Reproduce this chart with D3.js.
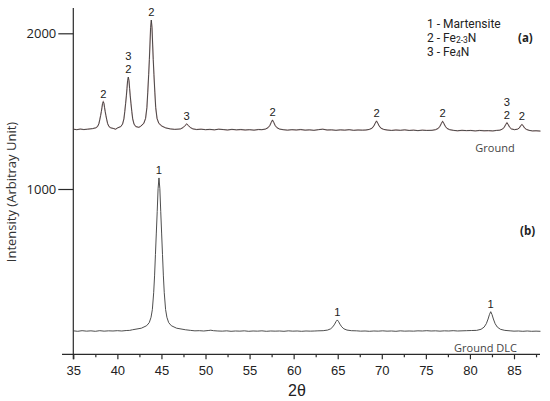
<!DOCTYPE html>
<html><head><meta charset="utf-8">
<script src="https://cdn.jsdelivr.net/npm/d3@7"></script>
<style>body{margin:0;background:#fff;} svg{display:block;}</style>
</head><body>
<svg id="c" width="550" height="401"></svg>
<script>
// Trace (a) Ground
const thetaA = [35.0,35.4,35.8,36.2,36.6,36.9,37.2,37.55,37.75,37.9,38.0,38.1,38.18,38.25,38.32,38.4,38.48,38.55,38.62,38.7,38.8,38.9,39.05,39.25,39.6,39.8,40.04,40.39,40.59,40.74,40.84,40.94,41.02,41.09,41.16,41.24,41.32,41.39,41.46,41.54,41.64,41.74,41.89,42.09,42.44,42.65,43.0,43.2,43.35,43.45,43.55,43.63,43.7,43.77,43.85,43.93,44.0,44.07,44.15,44.25,44.35,44.5,44.7,45.05,45.5,46.0,46.5,47.0,47.17,47.47,47.67,47.87,48.07,48.27,48.57,49.0,49.5,50.0,50.5,51.0,51.5,52.0,52.5,53.0,53.5,54.0,54.5,55.0,55.5,56.0,56.4,56.8,57.1,57.3,57.45,57.6,57.75,57.9,58.1,58.4,58.8,59.3,59.8,60.3,60.8,61.3,61.8,62.3,62.8,63.3,63.8,64.3,64.8,65.3,65.8,66.3,66.8,67.3,67.8,68.2,68.6,68.9,69.1,69.25,69.4,69.55,69.7,69.9,70.2,70.6,71.1,71.6,72.1,72.6,73.1,73.6,74.1,74.6,75.1,75.7,76.1,76.4,76.6,76.75,76.9,77.05,77.2,77.4,77.7,78.1,78.6,79.1,79.6,80.1,80.6,81.1,81.6,82.1,82.6,83.0,83.4,83.7,83.9,84.05,84.2,84.35,84.5,84.7,85.05,85.4,85.6,85.75,85.9,86.05,86.2,86.4,86.7,87.1,87.5,88.0];
const intA = [1384,1381,1385,1382,1384,1386,1388,1393,1401,1419,1444,1472,1497,1522,1549,1561,1549,1522,1497,1472,1444,1419,1401,1393,1388,1384,1393,1401,1417,1450,1497,1551,1598,1645,1695,1719,1695,1645,1598,1551,1497,1450,1417,1401,1396,1403,1422,1453,1523,1622,1734,1832,1931,2036,2085,2036,1931,1832,1734,1622,1523,1453,1422,1404,1392,1386,1383,1385,1386,1395,1407,1418,1407,1395,1386,1382,1384,1381,1383,1380,1384,1382,1379,1383,1380,1382,1379,1381,1378,1382,1381,1385,1394,1408,1427,1443,1427,1408,1394,1385,1381,1378,1381,1379,1382,1378,1380,1377,1381,1384,1379,1380,1377,1380,1378,1381,1377,1379,1378,1379,1383,1391,1405,1422,1437,1422,1405,1391,1383,1379,1376,1379,1377,1380,1376,1378,1375,1378,1376,1377,1381,1389,1403,1420,1435,1420,1403,1389,1381,1377,1374,1377,1375,1376,1373,1376,1374,1375,1373,1376,1378,1385,1397,1413,1426,1413,1397,1386,1381,1384,1392,1405,1415,1405,1392,1383,1377,1373,1374,1372];
// Trace (b) Ground DLC
const thetaB = [35.0,35.5,36.0,36.5,37.0,37.5,38.0,38.5,39.0,39.5,40.0,40.5,41.0,41.4,41.72,42.72,43.32,43.62,43.82,43.97,44.12,44.22,44.32,44.42,44.52,44.62,44.72,44.82,44.92,45.02,45.12,45.22,45.32,45.47,45.62,45.82,46.12,46.72,47.72,48.3,48.8,49.3,49.8,50.3,50.6,50.9,51.4,51.9,52.4,52.9,53.4,53.9,54.4,54.9,55.4,55.9,56.4,56.9,57.4,57.9,58.4,58.9,59.4,59.9,60.4,60.9,61.4,61.9,62.4,62.75,63.35,63.85,64.2,64.45,64.65,64.8,64.95,65.1,65.25,65.45,65.7,66.05,66.55,67.15,67.6,68.1,68.6,69.1,69.6,70.1,70.6,71.1,71.6,72.1,72.6,73.1,73.6,74.1,74.6,75.1,75.6,76.1,76.6,77.1,77.6,78.1,78.6,79.1,79.6,80.16,80.76,81.26,81.61,81.86,82.06,82.21,82.36,82.51,82.66,82.86,83.11,83.46,83.96,84.56,85.0,85.5,86.0,86.5,87.0,87.5,88.0];
const intB = [89,86,90,87,89,86,90,87,89,88,90,88,91,92,96,106,122,142,176,226,334,442,580,717,855,1002,1071,1002,855,717,580,442,334,226,176,142,122,106,96,92,89,90,88,91,93,90,88,87,89,86,88,87,89,86,88,87,89,86,88,87,88,86,89,87,88,86,88,87,88,89,90,94,102,115,132,148,159,148,132,115,102,94,90,89,87,88,86,88,87,89,87,88,86,89,87,88,87,89,88,90,88,89,87,89,88,90,88,89,90,91,92,99,113,135,165,193,212,193,165,135,113,99,92,89,87,88,86,88,86,87,86];
// Peak annotations
const labA_theta = [38.4,41.24,43.85,47.87,57.6,69.4,76.9,84.2,85.9];
const labA_int   = [1561,1719,2085,1418,1443,1437,1435,1426,1415];
const labA_text  = [["2"],["3","2"],["2"],["3"],["2"],["2"],["2"],["3","2"],["2"]];
const labB_theta = [44.72,64.95,82.36];
const labB_int   = [1071,159,212];
const labB_text  = [["1"],["1"],["1"]];
const legendItems = [["1 - Martensite","",""],["2 - Fe","2-3","N"],["3 - Fe","4","N"]];
const xMajor = [35,40,45,50,55,60,65,70,75,80,85];
const xMinor = [37.5,42.5,47.5,52.5,57.5,62.5,67.5,72.5,77.5,82.5,87.5];
const yTicks = [1000,2000];

const svg = d3.select("#c");
const x = d3.scaleLinear().domain([35,85]).range([73.3,514]);
const y = d3.scaleLinear().domain([0,2000]).range([344.7,33.3]);
const ink = "#2a2a2a";
const tickFont = "'Liberation Sans', Arial, sans-serif";
const txtFont = "'Open Sans', sans-serif";

// x axis
const xAxisY = 354.3;
svg.append("line").attr("x1",x(33.72)).attr("x2",x(87.95)).attr("y1",xAxisY).attr("y2",xAxisY)
  .attr("stroke",ink).attr("stroke-width",1.2);
const gx = svg.append("g").attr("transform",`translate(0,${xAxisY})`);
gx.call(d3.axisBottom(x).tickValues(xMajor).tickSize(5).tickPadding(6).tickFormat(d3.format("d")));
gx.select(".domain").remove();
gx.selectAll(".tick line").attr("stroke",ink).attr("stroke-width",1.2);
gx.selectAll(".tick text").attr("font-family",tickFont).attr("font-size",13).attr("fill","#222");
const gxm = svg.append("g").attr("transform",`translate(0,${xAxisY})`);
gxm.call(d3.axisBottom(x).tickValues(xMinor).tickSize(3).tickFormat(""));
gxm.select(".domain").remove();
gxm.selectAll(".tick line").attr("stroke",ink).attr("stroke-width",1.2);

// y axis
svg.append("line").attr("x1",x(35)).attr("x2",x(35)).attr("y1",y(2163)).attr("y2",xAxisY+5)
  .attr("stroke",ink).attr("stroke-width",1.2);
const gy = svg.append("g").attr("transform",`translate(${x(35)},0)`);
gy.call(d3.axisLeft(y).tickValues(yTicks).tickSize(15).tickPadding(2).tickFormat(d3.format("d")));
gy.select(".domain").remove();
gy.selectAll(".tick line").attr("stroke",ink).attr("stroke-width",1.2);
gy.selectAll(".tick text").attr("font-family",txtFont).attr("font-size",13).attr("fill","#222");

// axis titles
svg.append("text").attr("x",297).attr("y",396).attr("text-anchor","middle")
  .attr("font-family",tickFont).attr("font-size",16).attr("fill","#222").text("2θ");
svg.append("text").attr("transform","translate(16,192) rotate(-90)").attr("text-anchor","middle")
  .attr("font-family",txtFont).attr("font-size",13).attr("fill","#333").text("Intensity (Arbitray Unit)");

// traces
const line = d3.line().x(d=>x(d[0])).y(d=>y(d[1]));
const dataA = thetaA.map((t,i)=>[t,intA[i]]);
const dataB = thetaB.map((t,i)=>[t,intB[i]]);
svg.append("path").datum(dataA).attr("d",line).attr("fill","none").attr("stroke","#9a4040").attr("stroke-width",1.3).attr("opacity",0.3);
svg.append("path").datum(dataA).attr("d",line).attr("fill","none").attr("stroke","#3a3a3a").attr("stroke-width",0.9);
svg.append("path").datum(dataB).attr("d",line).attr("fill","none").attr("stroke","#3a3a3a").attr("stroke-width",0.9);

// peak labels
const labFont = "'Liberation Sans', Arial, sans-serif";
function labels(th, it, tx){
  th.forEach((t,i)=>{
    const lines = tx[i];
    const base = y(it[i]) - 4;
    lines.forEach((s,j)=>{
      svg.append("text").attr("x",x(t)).attr("y",base - (lines.length-1-j)*12.6)
        .attr("text-anchor","middle").attr("font-family",labFont)
        .attr("font-size",11.2).attr("fill","#222").text(s);
    });
  });
}
labels(labA_theta,labA_int,labA_text);
labels(labB_theta,labB_int,labB_text);

// legend
const legFont = "Roboto, sans-serif";
legendItems.forEach((it,i)=>{
  const t = svg.append("text").attr("x",427).attr("y",27.5+i*14.3)
    .attr("font-family",legFont).attr("font-size",12).attr("fill","#222");
  t.append("tspan").text(it[0]);
  if(it[1]){
    t.append("tspan").attr("font-size",8.5).attr("dy",0.8).text(it[1]);
    t.append("tspan").attr("dy",-0.8).text(it[2]);
  }
});

svg.append("text").attr("x",518).attr("y",41.5).attr("font-family",txtFont).attr("font-size",11.5)
  .attr("font-weight","bold").attr("fill","#222").text("(a)");
svg.append("text").attr("x",520).attr("y",234.5).attr("font-family",txtFont).attr("font-size",11.5)
  .attr("font-weight","bold").attr("fill","#222").text("(b)");
svg.append("text").attr("x",495).attr("y",151.5).attr("text-anchor","middle").attr("font-family",txtFont)
  .attr("font-size",11).attr("fill","#444").text("Ground");
svg.append("text").attr("x",485.5).attr("y",352).attr("text-anchor","middle").attr("font-family",txtFont)
  .attr("font-size",11).attr("fill","#444").text("Ground DLC");
</script>
</body></html>
